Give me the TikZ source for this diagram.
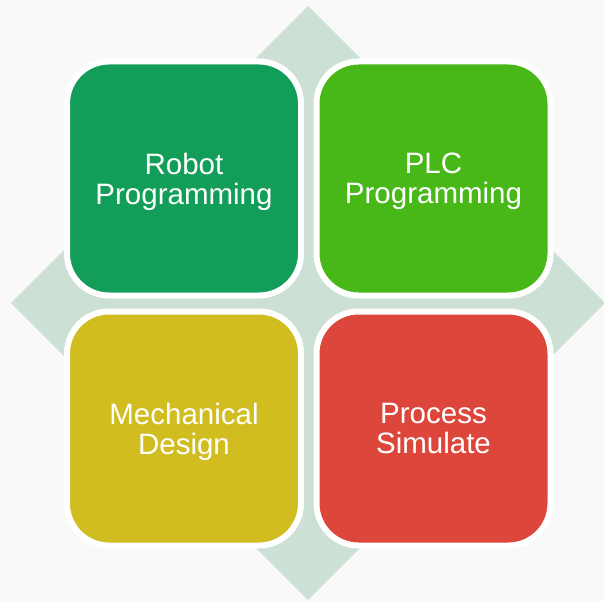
\documentclass[tikz,border=0pt]{standalone}
\usepackage{fontspec}
\setmainfont{Liberation Sans}
\definecolor{bgcol}{HTML}{F9F9F9}
\definecolor{diamondcol}{HTML}{CDE0D5}
\definecolor{robotcol}{HTML}{129E58}
\definecolor{plccol}{HTML}{48B818}
\definecolor{mechcol}{HTML}{D1BD1F}
\definecolor{proccol}{HTML}{DD463A}
\newcommand{\nodepth}[1]{\raisebox{0pt}[\height][0pt]{#1}}
\tikzset{
  tile/.style = {rectangle, draw=white, line width=6pt, rounded corners=42pt,
                 minimum width=234pt, minimum height=234pt, inner sep=0pt,
                 text=white, align=center,
                 font=\fontsize{29.5}{30}\selectfont}
}
\begin{document}
\begin{tikzpicture}[x=1pt, y=-1pt]
      \fill[bgcol] (0,0) rectangle (604,601);
      \useasboundingbox (0,0) rectangle (604,601);

      % diamond behind the tiles
      \fill[diamondcol] (308,6) -- (605,303) -- (308,600) -- (11,303) -- cycle;

      \node[tile, fill=robotcol] (robot) at (184,178.5) {Robot\\\nodepth{Programming}};
      \node[tile, fill=plccol] (plc) at (433.5,178.5) {PLC\\\nodepth{Programming}};
      \node[tile, fill=mechcol] (mech) at (184,428.5) {Mechanical\\\nodepth{Design}};
      \node[tile, fill=proccol] (proc) at (433.5,428.5) {Process\\\nodepth{Simulate}};
\end{tikzpicture}
\end{document}
